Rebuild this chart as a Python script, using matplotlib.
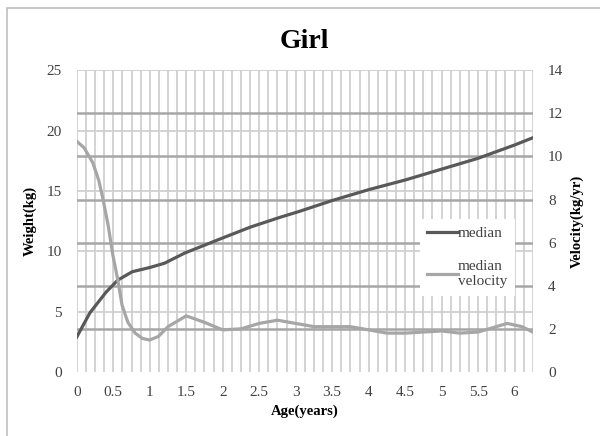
import numpy as np
import matplotlib
matplotlib.use("Agg")
import matplotlib.pyplot as plt
from matplotlib.patches import Rectangle

# ages (years) and values
weight_age = [0, 0.18, 0.4, 0.56, 0.76, 1.0, 1.2, 1.48, 1.75, 2.0, 2.38, 2.78,
              3.05, 3.5, 4.0, 4.5, 5.0, 5.5, 6.0, 6.25]
weight_median = [2.9, 4.9, 6.6, 7.6, 8.3, 8.65, 9.0, 9.85, 10.5, 11.1, 12.0, 12.8,
                 13.3, 14.2, 15.1, 15.9, 16.8, 17.7, 18.8, 19.4]

vel_age = [0, 0.1, 0.22, 0.3, 0.36, 0.43, 0.49, 0.56, 0.62, 0.7, 0.8, 0.9, 1.0, 1.12,
           1.25, 1.5, 1.75, 2.0, 2.25, 2.5, 2.75, 3.0, 3.25, 3.5, 3.75, 4.0,
           4.25, 4.5, 4.75, 5.0, 5.25, 5.5, 5.75, 5.9, 6.1, 6.25]
vel_median = [10.7, 10.4, 9.7, 8.9, 8.0, 6.8, 5.5, 4.3, 3.1, 2.3, 1.8, 1.55, 1.48, 1.65,
              2.1, 2.6, 2.3, 1.95, 2.0, 2.25, 2.4, 2.25, 2.1, 2.1, 2.1, 1.95,
              1.8, 1.8, 1.85, 1.9, 1.8, 1.85, 2.1, 2.25, 2.1, 1.85]

x_ticks = [0, 0.5, 1, 1.5, 2, 2.5, 3, 3.5, 4, 4.5, 5, 5.5, 6]
x_labels = ["0", "0.5", "1", "1.5", "2", "2.5", "3", "3.5", "4", "4.5", "5", "5.5", "6"]
left_ticks = [0, 5, 10, 15, 20, 25]
right_ticks = [0, 2, 4, 6, 8, 10, 12, 14]

plt.rcParams['font.family'] = ['Liberation Serif', 'DejaVu Serif']

fig = plt.figure(figsize=(6, 4.36), dpi=100)
ax = fig.add_axes([0.128, 0.147, 0.76, 0.692])
ax2 = ax.twinx()

ax.set_xlim(0, 6.25)
ax.set_ylim(0, 25)
ax2.set_ylim(0, 14)

# vertical gridlines every 1/8 year
for gx in np.arange(0, 6.25 + 0.001, 0.125):
    ax.axvline(gx, color="#d0d0d0", lw=1.3, zorder=0)
for gy in left_ticks[1:]:
    ax.axhline(gy, color="#d0d0d0", lw=1.3, zorder=0)
for gy in right_ticks[1:-1]:
    ax2.axhline(gy, color="#a6a6a6", lw=1.8, zorder=0)

l1, = ax2.plot([], [], color="#595959", lw=2.3, label="median")
ax2.plot(np.array(weight_age), np.array(weight_median) * 14 / 25, color="#595959", lw=2.3)
l2, = ax2.plot(vel_age, vel_median, color="#a6a6a6", lw=2.3, label="median\nvelocity")

ax.set_xticks(x_ticks)
ax.set_xticklabels(x_labels)
ax.set_yticks(left_ticks)
ax2.set_yticks(right_ticks)

for a in (ax, ax2):
    for s in a.spines.values():
        s.set_visible(False)
    a.tick_params(length=0, labelsize=11, colors="#404040", pad=11)
ax.tick_params(axis="x", pad=10)

ax.set_xlabel("Age(years)", fontsize=10.5, fontweight="bold", labelpad=4)
ax.set_ylabel("Weight(kg)", fontsize=10.5, fontweight="bold", labelpad=7)
ax2.set_ylabel("Velocity(kg/yr)", fontsize=10.5, fontweight="bold", labelpad=5)
fig.text(0.508, 0.905, "Girl", ha="center", va="center", fontsize=20, fontweight="bold")

leg = ax2.legend(handles=[l1, l2], loc="center left", bbox_to_anchor=(0.735, 0.38),
                 frameon=True, fancybox=False, edgecolor="none", facecolor="white",
                 framealpha=1, fontsize=11, handlelength=2.0, handletextpad=0.0,
                 labelspacing=1.3, borderpad=0.5)
leg.set_zorder(5)
for t in leg.get_texts():
    t.set_color("#404040")

fig.patches.append(Rectangle((7 / 600, -0.05), 1.1, 1 - 8 / 436 + 0.05,
                             transform=fig.transFigure, fill=False,
                             edgecolor="#bfbfbf", lw=1.2))

fig.savefig("out.png", dpi=100)
